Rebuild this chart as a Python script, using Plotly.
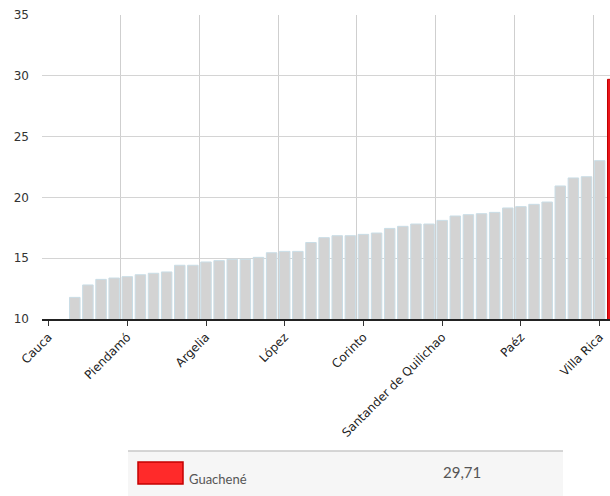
import plotly.graph_objects as go

# ---- data ----
values = [None, None, 11.78, 12.80, 13.26, 13.37, 13.48, 13.64, 13.76, 13.87,
          14.42, 14.42, 14.69, 14.80, 14.91, 14.91, 15.07, 15.45, 15.56, 15.56,
          16.29, 16.69, 16.85, 16.85, 16.96, 17.07, 17.45, 17.62, 17.81, 17.81,
          18.11, 18.47, 18.58, 18.66, 18.77, 19.13, 19.24, 19.43, 19.62, 20.94,
          21.60, 21.70, 23.02, 29.71]
tick_labels = ["Cauca", "Piendamó", "Argelia", "López", "Corinto",
               "Santander de Quilichao", "Paéz", "Villa Rica"]
tick_step = 6
highlight_index = 43
highlight_name = "Guachené"
highlight_text = "29,71"

# ---- figure ----
W, H = 610, 496
ML, MR, MT = 42, 0, 15
PH = 304
MB = H - MT - PH
PW = W - ML - MR

x = list(range(len(values)))
fill = ["#e8161b" if i == highlight_index else "#d3d3d3" for i in x]
edge = ["#c40000" if i == highlight_index else "#c9dde6" for i in x]

fig = go.Figure(go.Bar(
    x=x, y=values, width=0.8,
    marker=dict(color=fill, line=dict(color=edge, width=1)),
    hoverinfo="skip",
))

tickvals = [i * tick_step for i in range(len(tick_labels))]

fig.update_layout(
    width=W, height=H,
    margin=dict(l=ML, r=MR, t=MT, b=MB),
    paper_bgcolor="white", plot_bgcolor="white",
    showlegend=False, hovermode=False,
    xaxis=dict(
        range=[-0.5, 42.79],
        tickmode="array", tickvals=tickvals, ticktext=tick_labels,
        tickangle=-45, ticks="outside", ticklen=5, tickcolor="#333",
        showgrid=False, zeroline=False,
        showline=True, linecolor="#222", linewidth=1.5,
        tickfont=dict(family="DejaVu Sans", size=12, color="#222"),
        minor=dict(tickmode="array", tickvals=[t - 0.5 for t in tickvals],
                   showgrid=True, gridcolor="#cfcfcf", gridwidth=1, ticks=""),
    ),
    yaxis=dict(
        range=[10, 35], tickmode="array", tickvals=[10, 15, 20, 25, 30, 35],
        showgrid=True, gridcolor="#d4d4d4", gridwidth=1,
        zeroline=False, showline=False, ticks="",
        ticklabelstandoff=12,
        tickfont=dict(family="DejaVu Sans", size=12, color="#333"),
    ),
)

def px_x(p):
    return (p - ML) / PW

def px_y(p):
    return (H - MB - p) / PH

# legend-like box under the chart
fig.add_shape(type="rect", xref="paper", yref="paper",
              x0=px_x(128), x1=px_x(563), y0=px_y(500), y1=px_y(451),
              fillcolor="#f6f6f6", line=dict(width=0), layer="below")
fig.add_shape(type="line", xref="paper", yref="paper",
              x0=px_x(128), x1=px_x(563), y0=px_y(451), y1=px_y(451),
              line=dict(color="#c8c8c8", width=1.5))
fig.add_shape(type="rect", xref="paper", yref="paper",
              x0=px_x(138), x1=px_x(183), y0=px_y(484), y1=px_y(462),
              fillcolor="#ff2a2a", line=dict(color="#c40000", width=1.5))
fig.add_annotation(xref="paper", yref="paper", x=px_x(187), y=px_y(479),
                   text=highlight_name, showarrow=False,
                   xanchor="left", yanchor="middle",
                   font=dict(family="Lato", size=13, color="#555"))
fig.add_annotation(xref="paper", yref="paper", x=px_x(441), y=px_y(472),
                   text=highlight_text, showarrow=False,
                   xanchor="left", yanchor="middle",
                   font=dict(family="Lato", size=15, color="#555"))

fig.write_html(
    "out.html",
    config={"displayModeBar": False, "staticPlot": True},
    post_script="document.body.style.margin='0';document.body.style.overflow='hidden';",
)
